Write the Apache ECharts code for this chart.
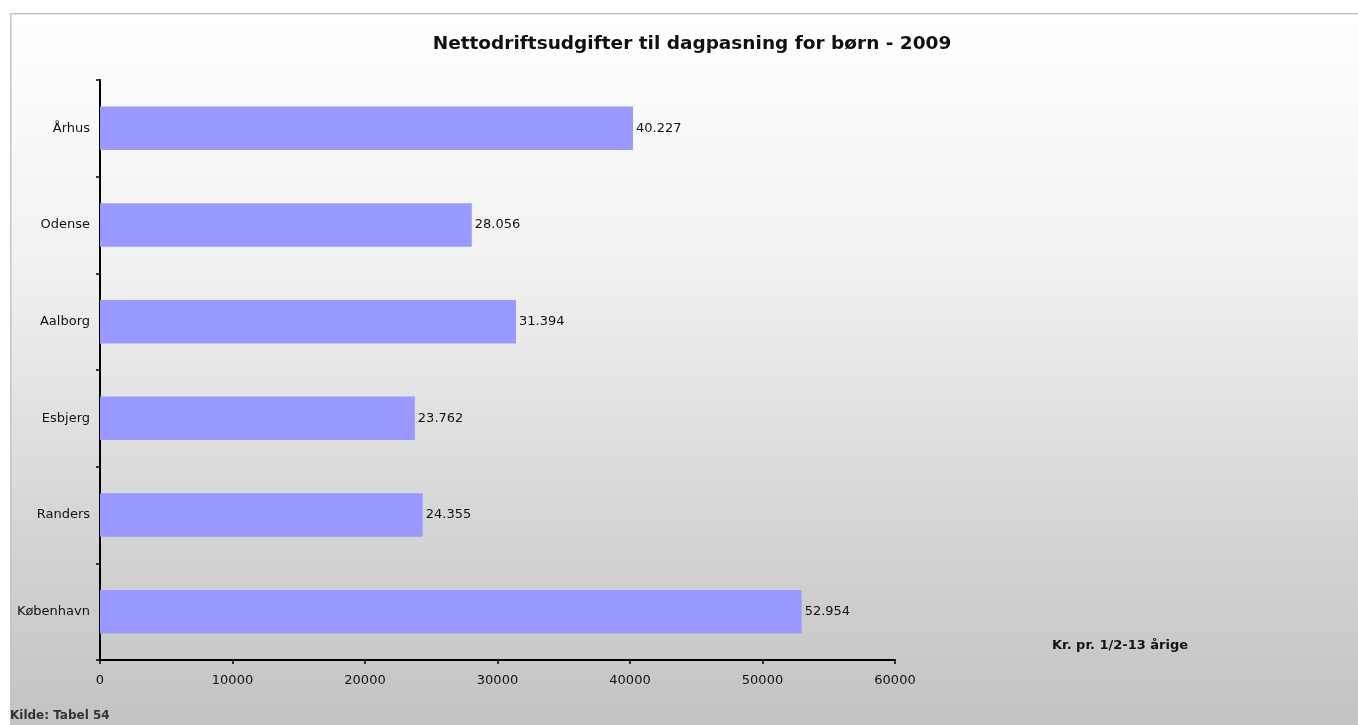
<!DOCTYPE html>
<html>
<head>
<meta charset="utf-8">
<script src="https://cdn.jsdelivr.net/npm/echarts@6/dist/echarts.min.js"></script>
<style>
html,body{margin:0;padding:0;background:#fff;}
#c{width:1358px;height:725px;}
</style>
</head>
<body>
<div id="c"></div>
<script>
var categories = ['Århus', 'Odense', 'Aalborg', 'Esbjerg', 'Randers', 'København'];
var values = [40227, 28056, 31394, 23762, 24355, 52954];
var xTicks = [0, 10000, 20000, 30000, 40000, 50000, 60000];

function fmt(v) {
  return String(v).replace(/\B(?=(\d{3})+(?!\d))/g, '.');
}

var FONT = '"DejaVu Sans", Verdana, sans-serif';
var chart = echarts.init(document.getElementById('c'), null, {renderer: 'canvas'});
chart.setOption({
  animation: false,
  backgroundColor: '#ffffff',
  graphic: [
    {
      type: 'rect', left: 10, top: 13, z: -10, silent: true,
      shape: {width: 1360, height: 720},
      style: {
        fill: new echarts.graphic.LinearGradient(0, 0, 0, 1, [
          {offset: 0, color: '#ffffff'},
          {offset: 0.35, color: '#f1f1f1'},
          {offset: 0.75, color: '#d2d2d2'},
          {offset: 1, color: '#c2c2c2'}
        ]),
        stroke: '#c4c4c4', lineWidth: 1.5
      }
    },
    {
      type: 'text', left: 1052, top: 639,
      style: {text: 'Kr. pr. 1/2-13 årige', font: 'bold 13px "DejaVu Sans", Verdana, sans-serif', fill: '#111'}
    },
    {
      type: 'text', left: 10, top: 710,
      style: {text: 'Kilde: Tabel 54', font: 'bold 12px "DejaVu Sans", Verdana, sans-serif', fill: '#333'}
    }
  ],
  title: {
    text: 'Nettodriftsudgifter til dagpasning for børn - 2009',
    left: 687, top: 30, textAlign: 'center',
    textStyle: {fontFamily: FONT, fontWeight: 'bold', fontSize: 18.5, color: '#111'}
  },
  grid: {left: 100, right: 463, top: 80, bottom: 65, containLabel: false},
  xAxis: {
    type: 'value', min: 0, max: 60000, interval: 10000,
    axisLine: {show: true, lineStyle: {color: '#000', width: 2}},
    axisTick: {show: true, length: 4, lineStyle: {color: '#000', width: 1.5}},
    splitLine: {show: false},
    axisLabel: {
      margin: 14, color: '#111', fontSize: 13, fontFamily: FONT,
      formatter: function (v) { return xTicks.indexOf(v) >= 0 ? String(v) : ''; }
    }
  },
  yAxis: {
    type: 'category', data: categories, inverse: true,
    axisLine: {show: true, lineStyle: {color: '#000', width: 2}},
    axisTick: {show: true, length: 4, lineStyle: {color: '#000', width: 1.5}},
    axisLabel: {margin: 10, color: '#111', fontSize: 13, fontFamily: FONT}
  },
  series: [{
    type: 'bar',
    data: values,
    barWidth: '45%',
    itemStyle: {color: '#9999ff'},
    label: {
      show: true, position: 'right', distance: 3,
      color: '#111', fontSize: 13, fontFamily: FONT,
      formatter: function (p) { return fmt(p.value); }
    }
  }]
});
</script>
</body>
</html>
